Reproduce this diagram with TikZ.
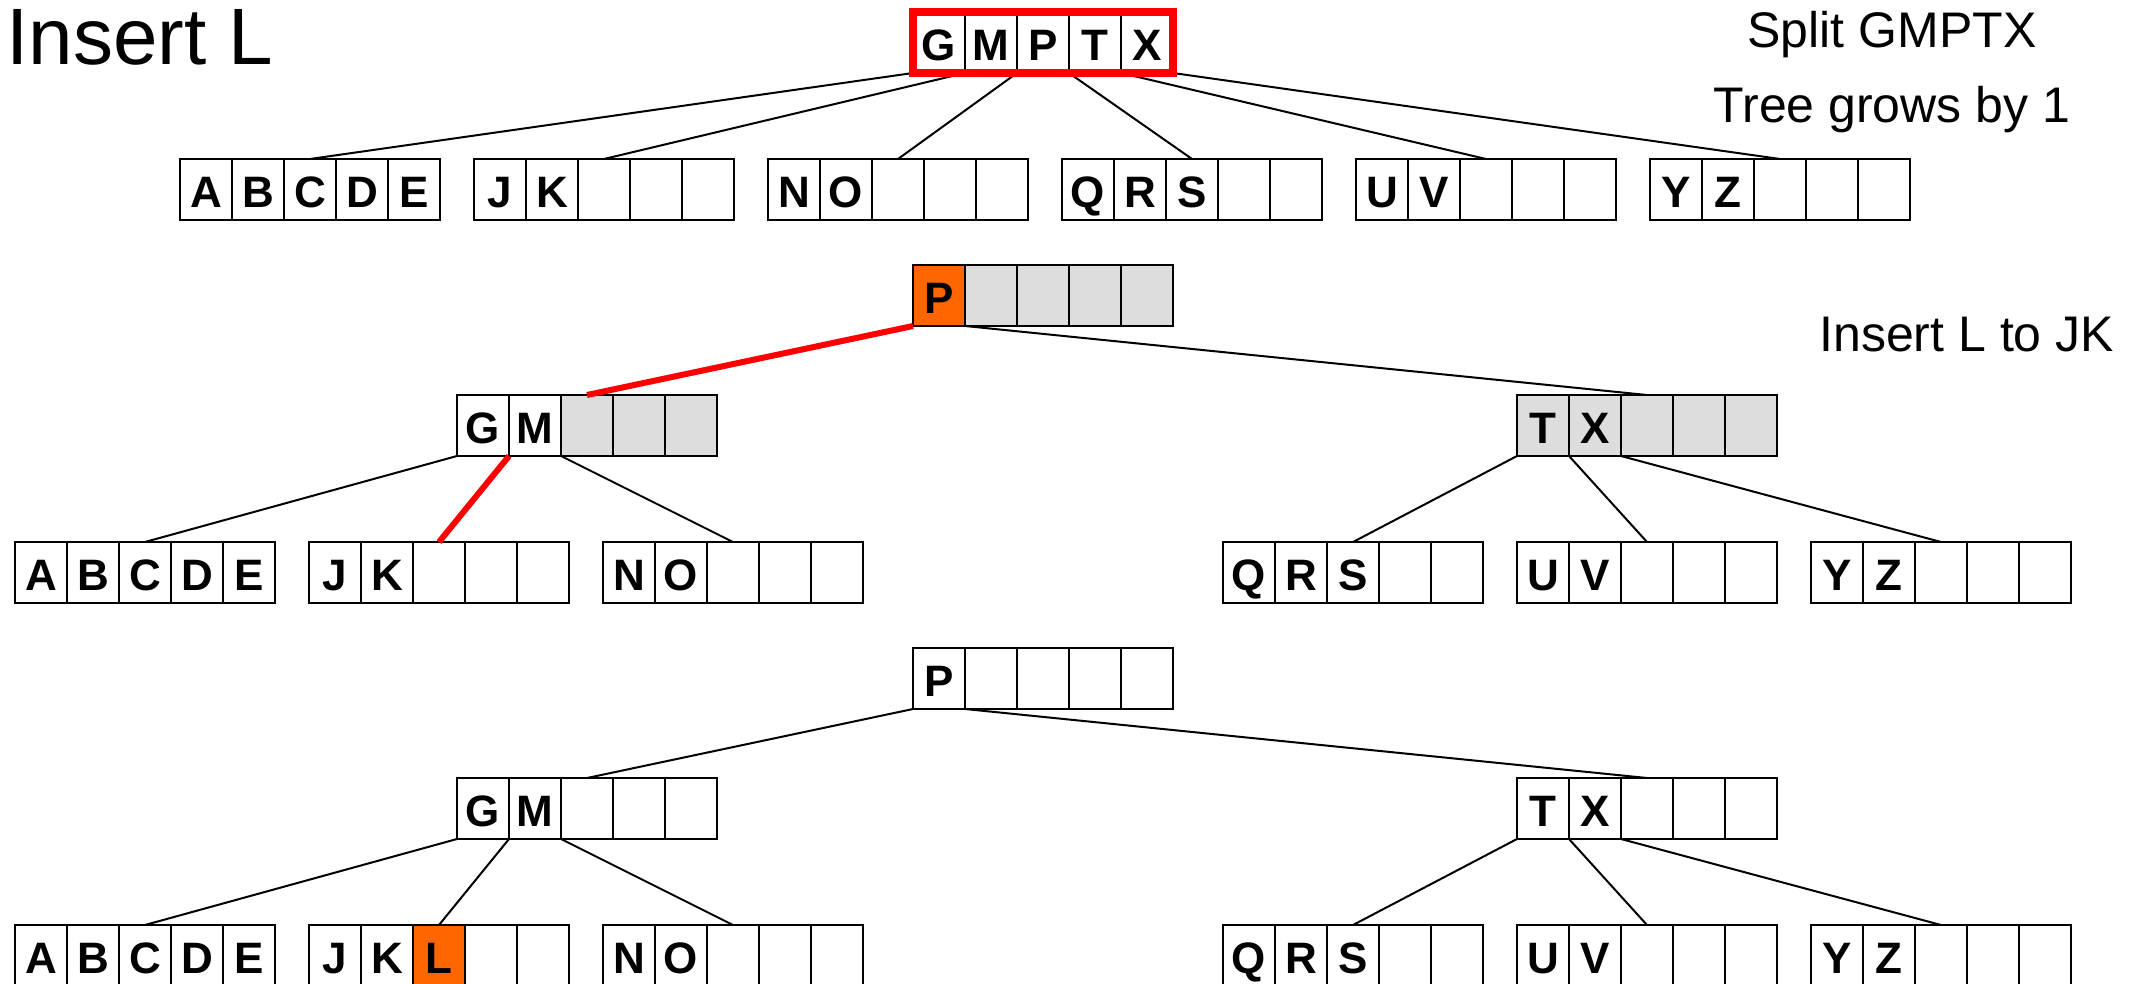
\documentclass[tikz,border=0pt]{standalone}
\usepackage{fontspec}
\setmainfont{Liberation Sans}
\definecolor{keyorange}{HTML}{FF6600}
\definecolor{keygray}{HTML}{DDDDDD}
\definecolor{keyred}{HTML}{FF0000}
\tikzset{
  cell/.style={draw=black, line width=1.5pt, minimum width=52pt, minimum height=61pt,
    inner sep=0pt, outer sep=0pt, text height=36.5pt, text depth=0pt,
    font=\fontsize{44}{50}\selectfont\bfseries},
  wc/.style={fill=white},
  gc/.style={fill=keygray},
  oc/.style={fill=keyorange},
  rim/.style={line width=2.5pt, line cap=rect},
  conn/.style={line width=2pt},
  redconn/.style={line width=6pt, draw=keyred},
  redframe/.style={line width=8pt, draw=keyred},
  label/.style={inner sep=0pt, outer sep=0pt, font=\fontsize{50}{56}\selectfont},
}
\newcommand\keybox[4]{%
  \foreach \st/\tx [count=\i] in {#4} {
    \node[cell,\st] (#1-\i) at ({#2+(\i-0.5)*52},{#3+30.5}) {\tx};
  }
  \draw[rim] (#1-1.north west) -- (#1-5.north east);
  \draw[rim] (#1-1.south west) -- (#1-5.south east);
}
\begin{document}
\begin{tikzpicture}[x=1pt,y=-1pt]
\useasboundingbox (0,0) rectangle (2134,984);
\clip (0,0) rectangle (2134,984);
\fill[white] (0,0) rectangle (2134,984);

% ---------- row 1 ----------
\keybox{a}{913}{12}{wc/G,wc/M,wc/P,wc/T,wc/X}
\keybox{a1}{180}{159}{wc/A,wc/B,wc/C,wc/D,wc/E}
\keybox{a2}{474}{159}{wc/J,wc/K,wc/{},wc/{},wc/{}}
\keybox{a3}{768}{159}{wc/N,wc/O,wc/{},wc/{},wc/{}}
\keybox{a4}{1062}{159}{wc/Q,wc/R,wc/S,wc/{},wc/{}}
\keybox{a5}{1356}{159}{wc/U,wc/V,wc/{},wc/{},wc/{}}
\keybox{a6}{1650}{159}{wc/Y,wc/Z,wc/{},wc/{},wc/{}}
\draw[conn] (a-1.south west) -- (a1-3.north);
\draw[conn] (a-1.south east) -- (a2-3.north);
\draw[conn] (a-2.south east) -- (a3-3.north);
\draw[conn] (a-3.south east) -- (a4-3.north);
\draw[conn] (a-4.south east) -- (a5-3.north);
\draw[conn] (a-5.south east) -- (a6-3.north);
\draw[redframe] (a-1.north west) rectangle (a-5.south east);

% ---------- row 2 ----------
\keybox{b}{913}{265}{oc/P,gc/{},gc/{},gc/{},gc/{}}
\keybox{bl}{457}{395}{wc/G,wc/M,gc/{},gc/{},gc/{}}
\keybox{br}{1517}{395}{gc/T,gc/X,gc/{},gc/{},gc/{}}
\keybox{b1}{15}{542}{wc/A,wc/B,wc/C,wc/D,wc/E}
\keybox{b2}{309}{542}{wc/J,wc/K,wc/{},wc/{},wc/{}}
\keybox{b3}{603}{542}{wc/N,wc/O,wc/{},wc/{},wc/{}}
\keybox{b4}{1223}{542}{wc/Q,wc/R,wc/S,wc/{},wc/{}}
\keybox{b5}{1517}{542}{wc/U,wc/V,wc/{},wc/{},wc/{}}
\keybox{b6}{1811}{542}{wc/Y,wc/Z,wc/{},wc/{},wc/{}}
\draw[redconn] (b-1.south west) -- (bl-3.north);
\draw[conn] (b-1.south east) -- (br-3.north);
\draw[conn] (bl-1.south west) -- (b1-3.north);
\draw[redconn] (bl-1.south east) -- (b2-3.north);
\draw[conn] (bl-2.south east) -- (b3-3.north);
\draw[conn] (br-1.south west) -- (b4-3.north);
\draw[conn] (br-1.south east) -- (b5-3.north);
\draw[conn] (br-2.south east) -- (b6-3.north);

% ---------- row 3 ----------
\keybox{c}{913}{648}{wc/P,wc/{},wc/{},wc/{},wc/{}}
\keybox{cl}{457}{778}{wc/G,wc/M,wc/{},wc/{},wc/{}}
\keybox{cr}{1517}{778}{wc/T,wc/X,wc/{},wc/{},wc/{}}
\keybox{c1}{15}{925}{wc/A,wc/B,wc/C,wc/D,wc/E}
\keybox{c2}{309}{925}{wc/J,wc/K,oc/L,wc/{},wc/{}}
\keybox{c3}{603}{925}{wc/N,wc/O,wc/{},wc/{},wc/{}}
\keybox{c4}{1223}{925}{wc/Q,wc/R,wc/S,wc/{},wc/{}}
\keybox{c5}{1517}{925}{wc/U,wc/V,wc/{},wc/{},wc/{}}
\keybox{c6}{1811}{925}{wc/Y,wc/Z,wc/{},wc/{},wc/{}}
\draw[conn] (c-1.south west) -- (cl-3.north);
\draw[conn] (c-1.south east) -- (cr-3.north);
\draw[conn] (cl-1.south west) -- (c1-3.north);
\draw[conn] (cl-1.south east) -- (c2-3.north);
\draw[conn] (cl-2.south east) -- (c3-3.north);
\draw[conn] (cr-1.south west) -- (c4-3.north);
\draw[conn] (cr-1.south east) -- (c5-3.north);
\draw[conn] (cr-2.south east) -- (c6-3.north);

% ---------- texts ----------
\node[label, anchor=base west, font=\fontsize{80}{90}\selectfont] (title) at (6.5,65) {Insert L};
\node[label, anchor=base] (split) at (1892,48) {Split GMPTX};
\node[label, anchor=base] (grow) at (1892,123) {Tree grows by 1};
\node[label, anchor=base east] (ins) at (2114,352) {Insert L to JK};
\end{tikzpicture}
\end{document}
